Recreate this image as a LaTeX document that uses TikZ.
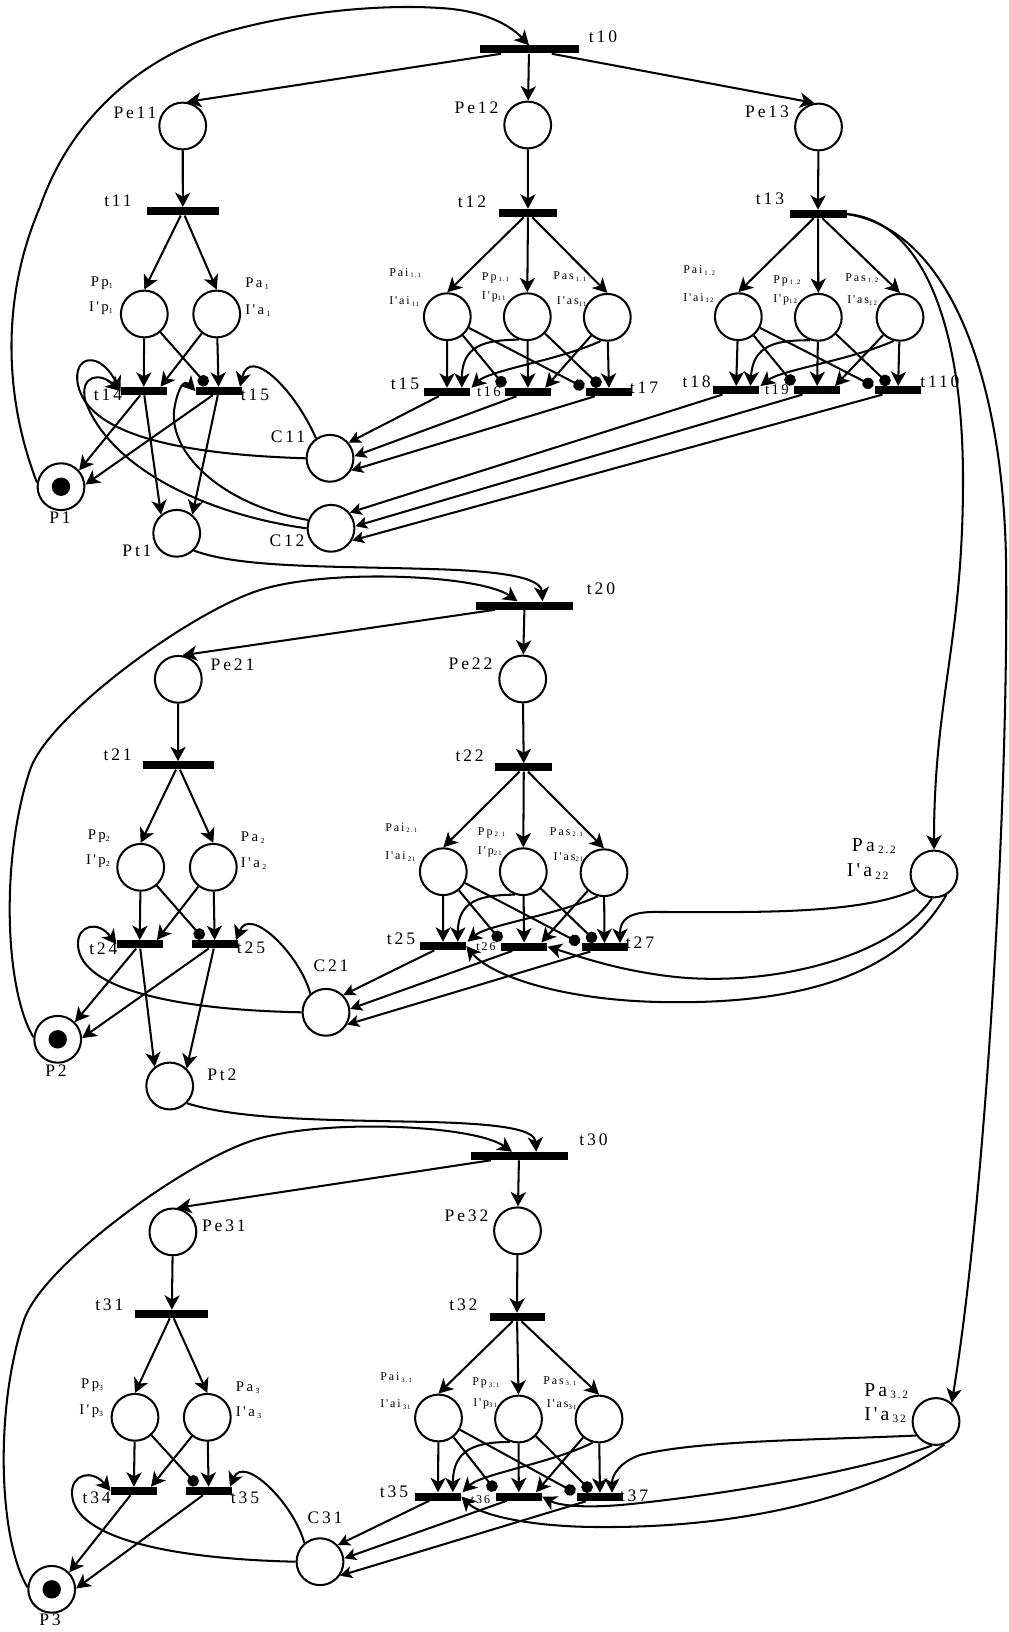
\documentclass[tikz,border=0pt]{standalone}
\usepackage{fontspec}
\setmainfont{Liberation Serif}
\newfontfamily\spaced[LetterSpace=16]{Liberation Serif}
\usetikzlibrary{arrows.meta}

\newcommand{\psub}[2][4.8]{\raisebox{-0.3ex}{\fontsize{#1}{#1}\selectfont #2}}
\newcommand{\flow}[2]{\foreach \dst in {#2}{\draw[parc] (#1) -- (\dst);}}

\tikzset{
  place/.style={circle, draw, line width=1.45pt, minimum size=11.7mm, inner sep=0pt},
  token/.style={circle, fill, minimum size=4.6mm, inner sep=0pt},
  trans/.style={rectangle, fill, inner sep=0pt, minimum height=2mm, minimum width=11.5mm},
  parc/.style={line width=1.45pt, -{Stealth[length=3.6mm, width=3.8mm, inset=1mm]}},
  parcs/.style={line width=1.45pt, -{Stealth[length=3mm, width=3mm, inset=0.7mm]}},
  inhib/.style={line width=1.45pt, -{Circle[length=2.9mm]}},
  lbig/.style={font=\spaced\fontsize{12.5}{14}\selectfont, inner sep=0pt, anchor=mid},
  lmed/.style={font=\spaced\fontsize{10.5}{12}\selectfont, inner sep=0pt, anchor=mid},
  lsml/.style={font=\spaced\fontsize{8.5}{10}\selectfont, inner sep=0pt, anchor=mid},
  lpa/.style={font=\spaced\fontsize{14}{16}\selectfont, inner sep=0pt, anchor=mid west},
}

\begin{document}
\begin{tikzpicture}[x=0.25mm, y=-0.25mm]
\useasboundingbox (0,0) rectangle (1009,1632);

% ---- stage 1
\node[trans, minimum width=24.75mm] (t10) at (529,49.5) {};
\node[lbig] (t10-l) at (603,39) {t10};
\node[place] (Pe11) at (182.7,126) {};
\node[lbig] (Pe11-l) at (135,115) {Pe11};
\node[place] (Pe12) at (527.7,125) {};
\node[lbig] (Pe12-l) at (476.5,110) {Pe12};
\node[place] (Pe13) at (818.5,127) {};
\node[lbig] (Pe13-l) at (767,114.5) {Pe13};
\node[trans, minimum width=18mm] (t11) at (182.8,211.3) {};
\node[lbig] (t11-l) at (118,203) {t11};
\node[trans, minimum width=14.5mm] (t12) at (528,213) {};
\node[lbig] (t12-l) at (472,204) {t12};
\node[trans, minimum width=14.25mm] (t13) at (818,214) {};
\node[lbig] (t13-l) at (770,201.7) {t13};

\node[place] (Pp1) at (144.3,314) {};
\node[place] (Pa1) at (216.7,314) {};
\node[lmed, anchor=mid east] (Pp1-l) at (113,283) {Pp\psub[5.5]{1}};
\node[lmed, anchor=mid east] (Ip1-l) at (113,308) {I'p\psub[5.5]{1}};
\node[lmed, anchor=mid west] (Pa1-l) at (245,284) {Pa\,\psub[5.5]{1}};
\node[lmed, anchor=mid west] (Ia1-l) at (245,311) {I'a\,\psub[5.5]{1}};
\node[trans] (t14) at (143.7,391) {};
\node[lbig] (t14-l) at (108,397) {t14};
\node[trans] (t15a) at (218.7,391) {};
\node[lbig] (t15a-l) at (255,397) {t15};
\node[place] (P1) at (61,486.7) {};
\node[token] (P1-m) at (P1) {};
\node[lbig] (P1-l) at (60,520) {P1};
\node[place] (Pt1) at (176.7,533.3) {};
\node[lbig] (Pt1-l) at (137,553) {Pt1};
\node[place] (C11) at (330,458.3) {};
\node[lbig] (C11-l) at (288,439) {C11};
\node[place] (C12) at (331,528.3) {};
\node[lbig] (C12-l) at (287,543) {C12};

\node[place] (Pai11) at (447.3,316.7) {};
\node[place] (Pp11) at (527.3,316.7) {};
\node[place] (Pas11) at (607.3,317.3) {};
\node[lsml, anchor=mid west] (Pai11-l) at (389,273) {Pai\,\psub{1.1}};
\node[lsml, anchor=mid west] (Iai11-l) at (389,301.7) {I'ai\,\psub{11}};
\node[lsml, anchor=mid west] (Pp11-l) at (481.7,277) {Pp\,\psub{1.1}};
\node[lsml, anchor=mid west] (Ip11-l) at (481.7,296) {I'p\psub{11}};
\node[lsml, anchor=mid west] (Pas11-l) at (553,276.7) {Pas\,\psub{1.1}};
\node[lsml, anchor=mid west] (Ias11-l) at (556.7,301.7) {I'as\psub{11}};
\node[trans] (t15b) at (447,392) {};
\node[trans] (t16) at (528,392) {};
\node[trans] (t17) at (609,392) {};
\node[lbig] (t15b-l) at (405,386.7) {t15};
\node[lmed] (t16-l) at (489,393.3) {t16};
\node[lbig] (t17-l) at (644,390.7) {t17};

\node[place] (Pai12) at (738.3,316.7) {};
\node[place] (Pp12) at (818.3,317.3) {};
\node[place] (Pas12) at (900,317.3) {};
\node[lsml, anchor=mid west] (Pai12-l) at (683,270.7) {Pai\,\psub{1.2}};
\node[lsml, anchor=mid west] (Iai12-l) at (683,298) {I'ai\,\psub{12}};
\node[lsml, anchor=mid west] (Pp12-l) at (773,280) {Pp\,\psub{1.2}};
\node[lsml, anchor=mid west] (Ip12-l) at (773,299) {I'p\psub{12}};
\node[lsml, anchor=mid west] (Pas12-l) at (845,278) {Pas\,\psub{1.2}};
\node[lsml, anchor=mid west] (Ias12-l) at (847,300.7) {I'as\psub{12}};
\node[trans] (t18) at (736,390.3) {};
\node[trans] (t19) at (817,390.3) {};
\node[trans] (t110) at (898,390.3) {};
\node[lbig] (t18-l) at (696.7,384) {t18};
\node[lmed] (t19-l) at (777,391.7) {t19};
\node[lbig] (t110-l) at (940,384) {t110};

% ---- stage 2
\node[trans, minimum width=24.25mm] (t20) at (524.5,605.5) {};
\node[lbig] (t20-l) at (601,591) {t20};
\node[place] (Pe21) at (178.3,679.3) {};
\node[lbig] (Pe21-l) at (232.5,667.7) {Pe21};
\node[place] (Pe22) at (522.7,679) {};
\node[lbig] (Pe22-l) at (470.5,666.7) {Pe22};
\node[trans, minimum width=17.75mm] (t21) at (178,765.4) {};
\node[lbig] (t21-l) at (117.7,757) {t21};
\node[trans, minimum width=14.25mm] (t22) at (523.8,767.4) {};
\node[lbig] (t22-l) at (469.6,758) {t22};

\node[place] (Pp2) at (140.7,867.3) {};
\node[place] (Pa2) at (213.3,867.3) {};
\node[lmed, anchor=mid east] (Pp2-l) at (110,836.7) {Pp\psub[5.5]{2}};
\node[lmed, anchor=mid east] (Ip2-l) at (110,861.7) {I'p\psub[5.5]{2}};
\node[lmed, anchor=mid west] (Pa2-l) at (240.7,838.3) {Pa\,\psub[5.5]{2}};
\node[lmed, anchor=mid west] (Ia2-l) at (240.7,864) {I'a\,\psub[5.5]{2}};
\node[trans] (t24) at (139.7,944.3) {};
\node[lbig] (t24-l) at (103.3,951) {t24};
\node[trans] (t25a) at (214.7,944.3) {};
\node[lbig] (t25a-l) at (251,950) {t25};
\node[place] (P2) at (57.7,1039.3) {};
\node[token] (P2-m) at (P2) {};
\node[lbig] (P2-l) at (56,1073.3) {P2};
\node[place] (Pt2) at (169.7,1086) {};
\node[lbig] (Pt2-l) at (221.8,1077.7) {Pt2};
\node[place] (C21) at (326,1012.3) {};
\node[lbig] (C21-l) at (331,968.3) {C21};

\node[place] (Pai21) at (443.3,871.7) {};
\node[place] (Pp21) at (523.3,871.7) {};
\node[place] (Pas21) at (604,872.7) {};
\node[lsml, anchor=mid west] (Pai21-l) at (385,828) {Pai\,\psub{2.1}};
\node[lsml, anchor=mid west] (Iai21-l) at (385,856.7) {I'ai\,\psub{21}};
\node[lsml, anchor=mid west] (Pp21-l) at (477.7,832) {Pp\,\psub{2.1}};
\node[lsml, anchor=mid west] (Ip21-l) at (477.7,851) {I'p\psub{21}};
\node[lsml, anchor=mid west] (Pas21-l) at (549.7,832) {Pas\,\psub{2.1}};
\node[lsml, anchor=mid west] (Ias21-l) at (553.4,857) {I'as\psub{21}};
\node[trans] (t25b) at (443,946) {};
\node[trans] (t26) at (524.2,946.7) {};
\node[trans] (t27) at (604.5,947.3) {};
\node[lbig] (t25b-l) at (401,941) {t25};
\node[lsml] (t26-l) at (486,947.3) {t26};
\node[lbig] (t27-l) at (640,945.7) {t27};
\node[place] (Pa22) at (934,874) {};
\node[lpa] (Pa22-l) at (851.7,848) {Pa\,\psub[8]{2.2}};
\node[lpa] (Ia22-l) at (846.7,873.3) {I'a\,\psub[8]{22}};

% ---- stage 3
\node[trans, minimum width=24.25mm] (t30) at (519,1156) {};
\node[lbig] (t30-l) at (593.5,1142.3) {t30};
\node[place] (Pe31) at (172.9,1231.9) {};
\node[lbig] (Pe31-l) at (223.9,1228.7) {Pe31};
\node[place] (Pe32) at (517.5,1230.8) {};
\node[lbig] (Pe32-l) at (466.5,1218.3) {Pe32};
\node[trans, minimum width=18.25mm] (t31) at (171.8,1314) {};
\node[lbig] (t31-l) at (109.3,1306.8) {t31};
\node[trans, minimum width=13.75mm] (t32) at (517,1317) {};
\node[lbig] (t32-l) at (463.4,1306.8) {t32};

\node[place] (Pp3) at (135,1417.3) {};
\node[place] (Pa3) at (207.3,1417.3) {};
\node[lmed, anchor=mid east] (Pp3-l) at (103.3,1385) {Pp\psub[5.5]{3}};
\node[lmed, anchor=mid east] (Ip3-l) at (103.3,1411.7) {I'p\psub[5.5]{3}};
\node[lmed, anchor=mid west] (Pa3-l) at (235.7,1388.3) {Pa\,\psub[5.5]{3}};
\node[lmed, anchor=mid west] (Ia3-l) at (235.7,1413.3) {I'a\,\psub[5.5]{3}};
\node[trans] (t34) at (133.8,1491) {};
\node[lbig] (t34-l) at (96.7,1500) {t34};
\node[trans] (t35a) at (208.7,1491) {};
\node[lbig] (t35a-l) at (245,1500) {t35};
\node[place] (P3) at (51.7,1589.3) {};
\node[token] (P3-m) at (P3) {};
\node[lbig] (P3-l) at (50,1622) {P3};
\node[place] (C31) at (320,1561.7) {};
\node[lbig] (C31-l) at (325,1520) {C31};

\node[place] (Pai31) at (438.5,1418) {};
\node[place] (Pp31) at (518.5,1419) {};
\node[place] (Pas31) at (599,1419) {};
\node[lsml, anchor=mid west] (Pai31-l) at (380,1377.5) {Pai\,\psub{3.1}};
\node[lsml, anchor=mid west] (Iai31-l) at (380,1404.6) {I'ai\,\psub{31}};
\node[lsml, anchor=mid west] (Pp31-l) at (472,1382.5) {Pp\,\psub{3.1}};
\node[lsml, anchor=mid west] (Ip31-l) at (473,1403) {I'p\psub{31}};
\node[lsml, anchor=mid west] (Pas31-l) at (543,1381) {Pas\,\psub{3.1}};
\node[lsml, anchor=mid west] (Ias31-l) at (546.5,1404.6) {I'as\psub{31}};
\node[trans] (t35b) at (438,1496.5) {};
\node[trans] (t36) at (518.8,1496.5) {};
\node[trans] (t37) at (600,1497) {};
\node[lbig] (t35b-l) at (394,1494.4) {t35};
\node[lsml] (t36-l) at (480.5,1500) {t36};
\node[lbig] (t37-l) at (634,1497.8) {t37};
\node[place] (Pa32) at (936,1421.5) {};
\node[lpa] (Pa32-l) at (864,1393) {Pa\,\psub[8]{3.2}};
\node[lpa] (Ia32-l) at (864,1417) {I'a\,\psub[8]{32}};

% ---- arcs, stage 1
\draw[parc] (P1.170) .. controls (5,400) and (0,300) .. (40,207) .. controls (70,120) and (140,55) .. (233,30) .. controls (300,12) and (380,4) .. (440,8) .. controls (475,10) and (505,20) .. (t10.north);
\flow{t10}{Pe11.80, Pe12, Pe13.100}
\flow{Pe11}{t11}
\flow{Pe12}{t12}
\flow{Pe13}{t13}
\flow{t11}{Pp1.north, Pa1.north}
\flow{t12}{Pai11.north, Pp11.north, Pas11.north}
\flow{t13}{Pai12.north, Pp12.north, Pas12.north}

\flow{Pp1}{t14}
\draw[parc] (Pa1) -- ([xshift=4.2mm]t14.north);
\draw[inhib] (Pp1) -- ([xshift=-2.9mm,yshift=0.4mm]t15a.north);
\flow{Pa1}{t15a}
\flow{t14}{P1.42, Pt1.130}
\flow{t15a}{P1.5, Pt1.50}
\draw[parc] (C11.west) .. controls (200,455) and (90,440) .. (78,385) .. controls (72,355) and (100,350) .. (t14.west);
\draw[parc] (C12.west) .. controls (210,515) and (110,470) .. (85,400) .. controls (80,375) and (100,372) .. (t14.west);
\draw[parc] (C11.125) .. controls (295,390) and (250,345) .. ([xshift=-0.5mm]t15a.north east);
\draw[parc] (C12.160) .. controls (220,505) and (165,450) .. (175,405) .. controls (179,385) and (185,380) .. (t15a.west);

\flow{Pai11}{t15b}
\draw[inhib] (Pai11) -- ([yshift=0.4mm]t16.north west);
\draw[inhib] (Pai11) -- ([xshift=-0.4mm]t17.north west);
\draw[parc] (Pp11.250) .. controls (485,340) and (462,345) .. ([xshift=3.7mm]t15b.north);
\flow{Pp11}{t16}
\draw[inhib] (Pp11) -- ([xshift=-2.2mm,yshift=0.4mm]t17.north);
\draw[parc] (Pas11.255) .. controls (560,360) and (490,370) .. ([xshift=0.3mm]t15b.north east);
\draw[parc] (Pas11) -- ([xshift=4.3mm]t16.north);
\flow{Pas11}{t17}
\draw[parcs] (t15b) -- (C11.40);
\draw[parcs] (t16) -- (C11.5);
\draw[parcs] (t17) -- (C11.-30);

\flow{Pai12}{t18}
\draw[inhib] (Pai12) -- ([yshift=0.4mm]t19.north west);
\draw[inhib] (Pai12) -- ([xshift=-0.4mm]t110.north west);
\draw[parc] (Pp12.250) .. controls (776,340) and (753,345) .. ([xshift=3.6mm]t18.north);
\flow{Pp12}{t19}
\draw[inhib] (Pp12) -- ([xshift=-2.2mm,yshift=0.4mm]t110.north);
\draw[parc] (Pas12.255) .. controls (851,360) and (781,370) .. ([xshift=0.3mm]t18.north east);
\draw[parc] (Pas12) -- ([xshift=4.5mm]t19.north);
\flow{Pas12}{t110}
\draw[parcs] (t18) -- (C12.40);
\draw[parcs] (t19) -- (C12.5);
\draw[parcs] (t110) -- (C12.-30);

% long arcs from t13
\draw[parc] (t13.east) .. controls (920,220) and (963,320) .. (963,480) .. controls (963,640) and (934,700) .. (Pa22.north);
\draw[parc] (t13.east) .. controls (950,230) and (1003,380) .. (1006,560) .. controls (1009,800) and (985,1200) .. (Pa32.50);

% ---- arcs, stage 2
\draw[parc] (Pt1.-45) .. controls (240,568) and (330,566) .. (430,569) .. controls (505,571) and (541,578) .. ([xshift=4.5mm]t20.north);
\draw[parc] (P2.175) .. controls (5,990) and (0,860) .. (30,770) .. controls (48,716) and (190,612) .. (260,590) .. controls (330,568) and (480,575) .. ([xshift=-1.75mm]t20.north);
\flow{t20}{Pe21.80, Pe22}
\flow{Pe21}{t21}
\flow{Pe22}{t22}
\flow{t21}{Pp2.north, Pa2.north}
\flow{t22}{Pai21.north, Pp21.north, Pas21.north}

\flow{Pp2}{t24}
\draw[parc] (Pa2) -- ([xshift=4.3mm]t24.north);
\draw[inhib] (Pp2) -- ([xshift=-2.9mm,yshift=0.4mm]t25a.north);
\flow{Pa2}{t25a}
\flow{t24}{P2.45, Pt2.128}
\flow{t25a}{P2.3, Pt2.46}
\draw[parc] (C21.west) .. controls (180,1010) and (80,990) .. (78,945) .. controls (77,925) and (98,920) .. (t24.west);
\draw[parc] (C21.130) .. controls (300,955) and (250,905) .. ([xshift=-0.5mm]t25a.north east);

\flow{Pai21}{t25b}
\draw[inhib] (Pai21) -- ([yshift=0.4mm]t26.north west);
\draw[inhib] (Pai21) -- ([xshift=-0.4mm]t27.north west);
\draw[parc] (Pp21.250) .. controls (481,895) and (458,900) .. ([xshift=3.7mm]t25b.north);
\flow{Pp21}{t26}
\draw[inhib] (Pp21) -- ([xshift=-2.2mm,yshift=0.4mm]t27.north);
\draw[parc] (Pas21.255) .. controls (557,915) and (487,925) .. ([xshift=0.3mm]t25b.north east);
\draw[parc] (Pas21) -- ([xshift=4.3mm]t26.north);
\flow{Pas21}{t27}
\draw[parcs] (t25b) -- (C21.45);
\draw[parcs] (t26) -- (C21.8);
\draw[parcs] (t27) -- (C21.-30);

\draw[parc] (Pa22.220) .. controls (860,915) and (750,912) .. (660,912) .. controls (628,911) and (620,920) .. ([xshift=3.9mm]t27.north);
\draw[parc] (Pa22.265) .. controls (890,960) and (760,990) .. (660,975) .. controls (610,968) and (575,955) .. (t26.east);
\draw[parc] (Pa22.300) .. controls (900,975) and (800,1005) .. (660,1002) .. controls (560,1000) and (490,975) .. (t25b.east);

% ---- arcs, stage 3
\draw[parc] (Pt2.-45) .. controls (240,1120) and (330,1120) .. (430,1122) .. controls (505,1124) and (535,1130) .. ([xshift=4.3mm]t30.north);
\draw[parc] (P3.175) .. controls (-1,1540) and (-6,1410) .. (24,1320) .. controls (42,1266) and (184,1162) .. (254,1140) .. controls (324,1118) and (474,1125) .. ([xshift=-1.75mm]t30.north);
\flow{t30}{Pe31.80, Pe32}
\flow{Pe31}{t31}
\flow{Pe32}{t32}
\flow{t31}{Pp3.north, Pa3.north}
\flow{t32}{Pai31.north, Pp31.north, Pas31.north}

\flow{Pp3}{t34}
\draw[parc] (Pa3) -- ([xshift=4.3mm]t34.north);
\draw[inhib] (Pp3) -- ([xshift=-2.9mm,yshift=0.4mm]t35a.north);
\flow{Pa3}{t35a}
\flow{t34}{P3.44}
\flow{t35a}{P3.2}
\draw[parc] (C31.west) .. controls (174,1559) and (74,1539) .. (72,1494) .. controls (71,1474) and (92,1469) .. (t34.west);
\draw[parc] (C31.130) .. controls (294,1504) and (244,1454) .. ([xshift=-0.5mm]t35a.north east);

\flow{Pai31}{t35b}
\draw[inhib] (Pai31) -- ([yshift=0.4mm]t36.north west);
\draw[inhib] (Pai31) -- ([xshift=-0.4mm]t37.north west);
\draw[parc] (Pp31.250) .. controls (476,1442) and (453,1449) .. ([xshift=3.7mm]t35b.north);
\flow{Pp31}{t36}
\draw[inhib] (Pp31) -- ([xshift=-2.2mm,yshift=0.4mm]t37.north);
\draw[parc] (Pas31.255) .. controls (552,1463) and (481,1474) .. ([xshift=0.3mm]t35b.north east);
\draw[parc] (Pas31) -- ([xshift=4.3mm]t36.north);
\flow{Pas31}{t37}
\draw[parcs] (t35b) -- (C31.43);
\draw[parcs] (t36) -- (C31.8);
\draw[parcs] (t37) -- (C31.-35);

\draw[parc] (Pa32.215) .. controls (820,1440) and (700,1440) .. (640,1455) .. controls (620,1462) and (612,1475) .. ([xshift=3mm]t37.north);
\draw[parc] (Pa32.260) .. controls (880,1465) and (760,1490) .. (640,1503) .. controls (590,1509) and (560,1506) .. (t36.east);
\draw[parc] (Pa32.290) .. controls (880,1490) and (760,1528) .. (600,1527) .. controls (530,1527) and (480,1515) .. (t35b.east);
\end{tikzpicture}
\end{document}
